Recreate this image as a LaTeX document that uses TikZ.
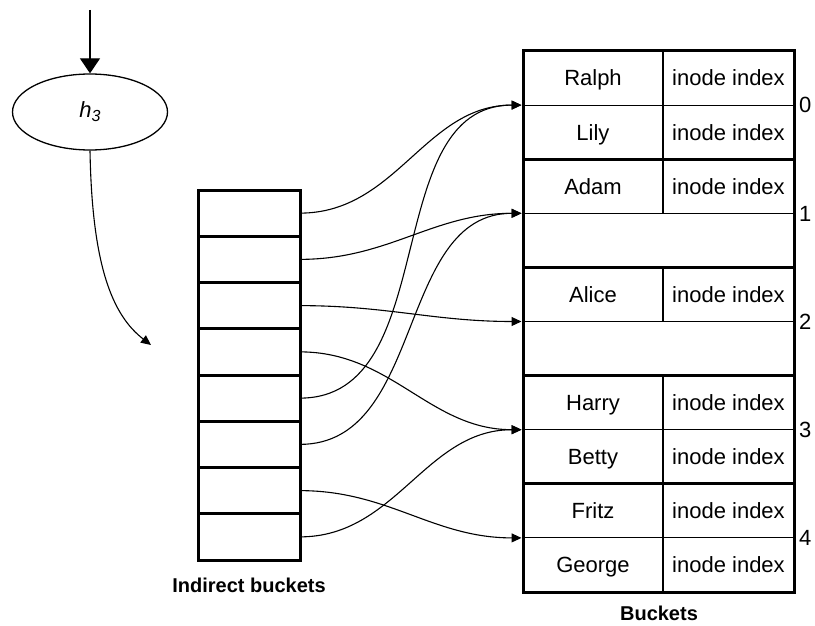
\documentclass[tikz,border=0pt]{standalone}
\usepackage{fontspec}
\setmainfont{Liberation Sans}
\usetikzlibrary{arrows.meta,shapes.geometric}
\begin{document}
\begin{tikzpicture}[x=1pt,y=-1pt,
  thickline/.style={line width=3pt},
  thinline/.style={line width=1.1pt},
  link/.style={line width=1.1pt,-{Triangle[length=10pt,width=9pt]}},
  cell/.style={inner sep=0pt,text height=20pt,text depth=4.2pt,font=\fontsize{22}{26}\selectfont},
  lab/.style={inner sep=0pt,font=\fontsize{20}{24}\selectfont\bfseries},
  ibox/.style={draw,thickline,minimum width=102pt,minimum height=46.25pt,inner sep=0pt,outer sep=0pt},
]
\useasboundingbox (0,0) rectangle (815,626);

% hash function
\node[ellipse,draw,line width=1.3pt,minimum width=155pt,minimum height=76pt,inner sep=0pt] (h) at (90,112)
  {\fontsize{22}{26}\selectfont\itshape h\raisebox{-0.35ex}{\fontsize{16}{19}\selectfont 3}};
\coordinate (top) at (90,10);
\draw[line width=1.3pt,-{Triangle[length=15pt,width=20pt]}] (top) -- (h.north);
\coordinate (hout) at (151,345);
\draw[link] (h.south) .. controls (92,265) and (112,315) .. (hout);

% indirect buckets
\foreach \i in {0,...,7}{
  \node[ibox] (ib\i) at (249,{190+46.25*(\i+0.5)}) {};
}
\node[lab,anchor=base] (ilab) at (249,592) {Indirect buckets};

% buckets table
\draw[thickline] (523,51) rectangle (794,592);
\foreach \k in {2,4,6,8}{
  \draw[thickline] (523,{51+54.1*\k}) -- (794,{51+54.1*\k});
}
\foreach \k in {1,3,5,7,9}{
  \draw[thinline] (523,{51+54.1*\k}) -- (794,{51+54.1*\k});
}
\draw[thinline] (663,51) -- (663,{51+54.1*3});
\draw[thinline] (663,{51+54.1*4}) -- (663,{51+54.1*5});
\draw[thinline] (663,{51+54.1*6}) -- (663,592);

\foreach \j/\nm in {0/Ralph,1/Lily,2/Adam,4/Alice,6/Harry,7/Betty,8/Fritz,9/George}{
  \node[cell] (n\j) at (593,{51+54.1*(\j+0.5)}) {\nm};
  \node[cell] (i\j) at (728.5,{51+54.1*(\j+0.5)}) {inode index};
}
\foreach \b in {0,...,4}{
  \coordinate (b\b) at (521.5,{51+54.1*(2*\b+1)});
  \node[cell,anchor=west] (num\b) at (799,{51+54.1*(2*\b+1)}) {\b};
}
\node[lab,anchor=base] (blab) at (659,620) {Buckets};

% connectors
\draw[link] (ib0.east) to[out=0,in=180] (b0);
\draw[link] (ib1.east) to[out=0,in=180] (b1);
\draw[link] (ib2.east) to[out=0,in=180] (b2);
\draw[link] (ib3.east) to[out=0,in=180] (b3);
\draw[link] (ib4.east) to[out=0,in=180] (b0);
\draw[link] (ib5.east) to[out=0,in=180] (b1);
\draw[link] (ib6.east) to[out=0,in=180] (b4);
\draw[link] (ib7.east) to[out=0,in=180] (b3);
\end{tikzpicture}
\end{document}
